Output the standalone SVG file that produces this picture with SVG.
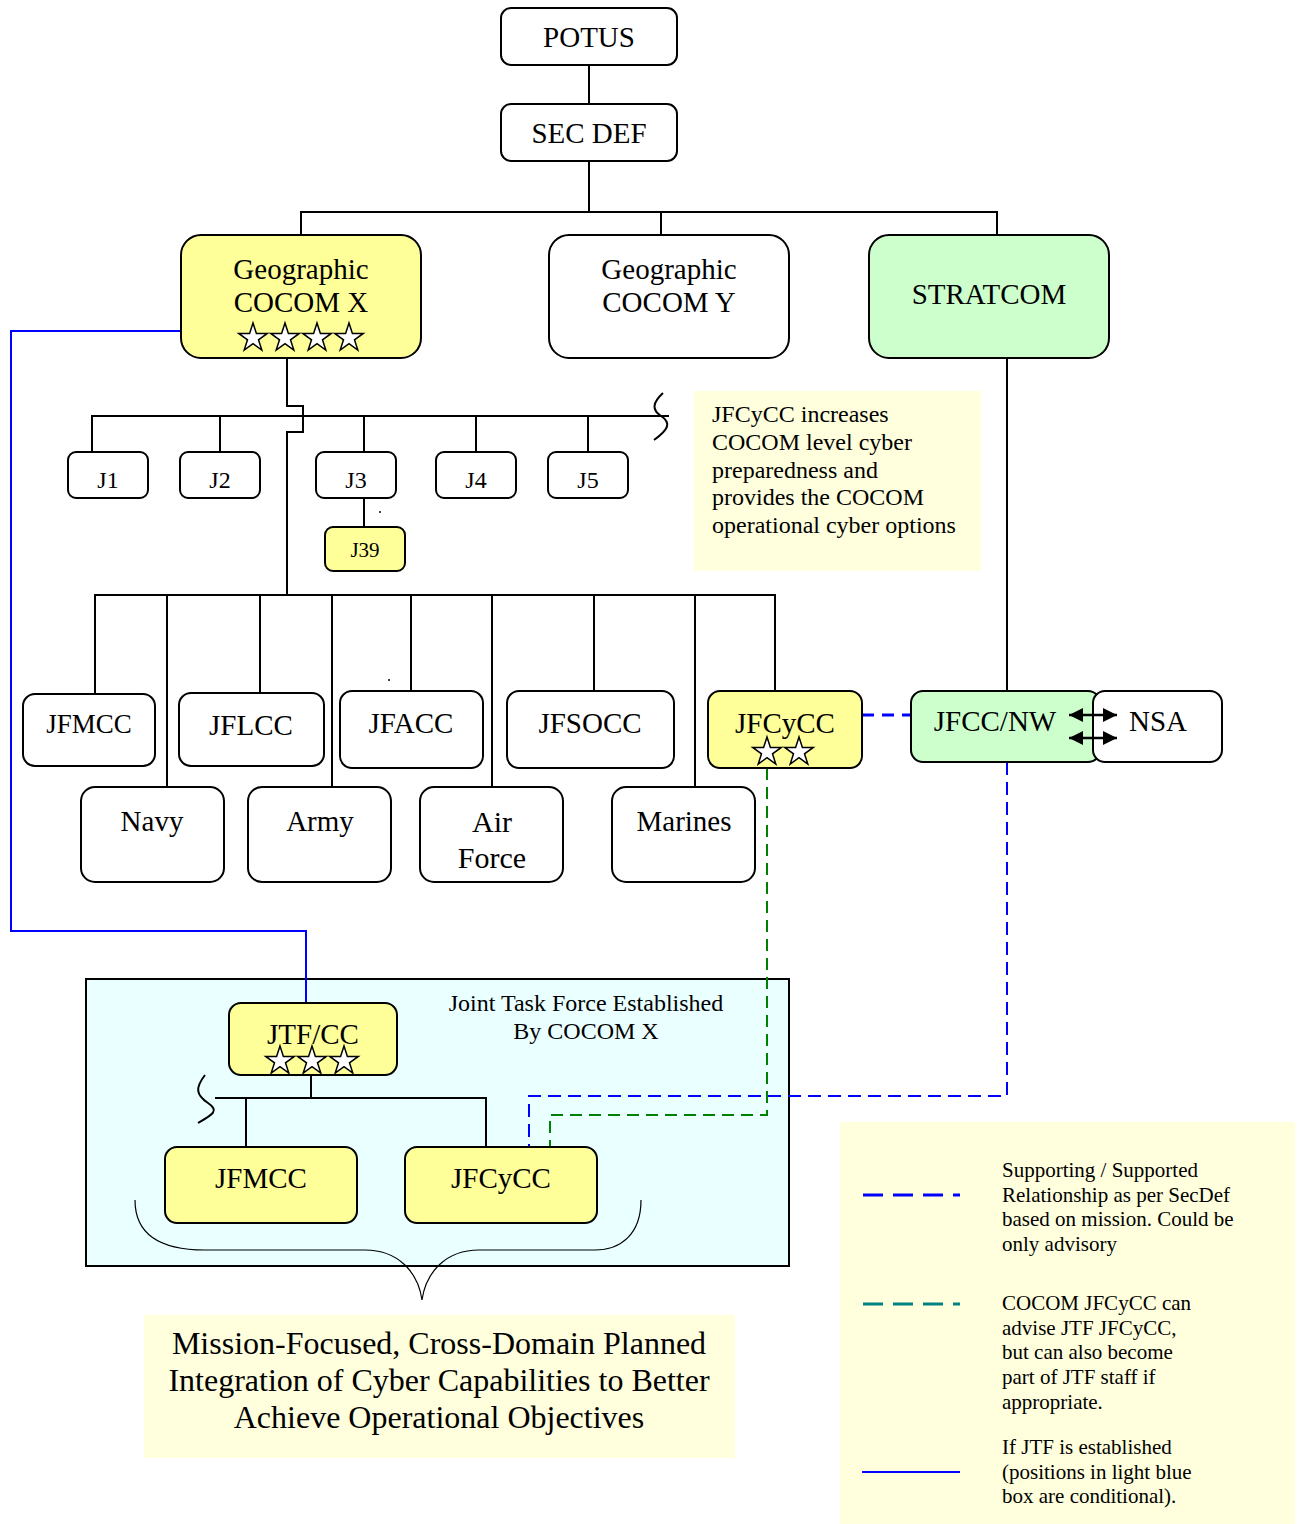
<svg xmlns="http://www.w3.org/2000/svg" width="1301" height="1524" viewBox="0 0 1301 1524">
<style>
text{font-family:"Liberation Serif","Times New Roman",serif;fill:#000}
.n{stroke:#000;stroke-width:2}
.w{fill:#fff}
.y{fill:#ffff99}
.g{fill:#ccffcc}
.c{text-anchor:middle}
.t29{font-size:29px}
.t24{font-size:24px}
.t21{font-size:21px}
.ln{fill:none;stroke:#000;stroke-width:2}
.thin{fill:none;stroke:#000;stroke-width:1.2}
.bl{fill:none;stroke:#0000ff;stroke-width:2}
.bd{fill:none;stroke:#0000ff;stroke-width:2;stroke-dasharray:13 7}
.gd{fill:none;stroke:#008000;stroke-width:2;stroke-dasharray:12 7}
.star{fill:#fff;stroke:#000;stroke-width:1.5}
</style>
<defs>
<path id="star" class="star" d="M0,-15 L3.4,-4.6 L14.3,-4.6 L5.5,1.8 L8.8,12.1 L0,5.7 L-8.8,12.1 L-5.5,1.8 L-14.3,-4.6 L-3.4,-4.6 Z"/>
<marker id="ah" viewBox="0 0 14 14" refX="14" refY="7" markerWidth="14" markerHeight="14" markerUnits="userSpaceOnUse" orient="auto-start-reverse">
<path d="M0,0 L14,7 L0,14 Z" fill="#000"/>
</marker>
</defs>

<!-- background panels -->
<g id="note">
<rect x="694" y="391" width="287" height="180" fill="#ffffdd"/>
<text class="t24" x="712" y="422">JFCyCC increases</text>
<text class="t24" x="712" y="450">COCOM level cyber</text>
<text class="t24" x="712" y="478">preparedness and</text>
<text class="t24" x="712" y="505">provides the COCOM</text>
<text class="t24" x="712" y="533">operational cyber options</text>
</g>
<g id="jtf-box">
<rect x="86" y="979" width="703" height="287" fill="#eaffff" stroke="#000" stroke-width="2"/>
<text class="t24 c" x="586" y="1011">Joint Task Force Established</text>
<text class="t24 c" x="586" y="1039">By COCOM X</text>
</g>
<g id="legend">
<rect x="840" y="1122" width="455" height="402" fill="#ffffdd"/>
<line x1="863" y1="1195" x2="960" y2="1195" stroke="#0000ff" stroke-width="3" stroke-dasharray="20 10"/>
<line x1="863" y1="1304" x2="960" y2="1304" stroke="#008080" stroke-width="3" stroke-dasharray="20 10"/>
<line x1="862" y1="1472" x2="960" y2="1472" stroke="#0000ff" stroke-width="2"/>
<text class="t21" x="1002" y="1177">Supporting / Supported</text>
<text class="t21" x="1002" y="1202">Relationship as per SecDef</text>
<text class="t21" x="1002" y="1226">based on mission. Could be</text>
<text class="t21" x="1002" y="1251">only advisory</text>
<text class="t21" x="1002" y="1310">COCOM JFCyCC can</text>
<text class="t21" x="1002" y="1335">advise JTF JFCyCC,</text>
<text class="t21" x="1002" y="1359">but can also become</text>
<text class="t21" x="1002" y="1384">part of JTF staff if</text>
<text class="t21" x="1002" y="1409">appropriate.</text>
<text class="t21" x="1002" y="1454">If JTF is established</text>
<text class="t21" x="1002" y="1479">(positions in light blue</text>
<text class="t21" x="1002" y="1503">box are conditional).</text>
</g>
<g id="mission">
<rect x="144" y="1315" width="591" height="143" fill="#ffffdd"/>
<text class="c" style="font-size:32px" x="439" y="1354">Mission-Focused, Cross-Domain Planned</text>
<text class="c" style="font-size:32px" x="439" y="1391">Integration of Cyber Capabilities to Better</text>
<text class="c" style="font-size:32px" x="439" y="1428">Achieve Operational Objectives</text>
</g>

<!-- connectors -->
<g id="connectors">
<path class="ln" d="M589,65 V104 M589,161 V212 M301,235 V212 H997 V235 M661,212 V235"/>
<path class="ln" d="M287,358 V406 H303 V432 H287 V595"/>
<path class="ln" d="M92,452 V416 H669 M220,416 V452 M364,416 V452 M476,416 V452 M588,416 V452"/>
<path class="ln" d="M663,393 C652,403 652,410 661,416 C672,423 668,430 654,440"/>
<path class="ln" d="M364,498 V527"/>
<path class="ln" d="M95,694 V595 H775 V691 M167,595 V787 M260,595 V693 M332,595 V787 M411,595 V691 M492,595 V787 M594,595 V691 M695,595 V787"/>
<path class="ln" d="M1007,358 V691"/>
<path class="bl" d="M181,331 H11 V931 H306 V1003"/>
<line x1="862" y1="715" x2="911" y2="715" stroke="#0000ff" stroke-width="3" stroke-dasharray="12 8"/>
<path class="bd" d="M1007,762 V1096 H529 V1147"/>
<path class="gd" d="M767,768 V1115 H550 V1147"/>
<path class="ln" d="M311,1075 V1098 M215,1098 H486 V1147 M246,1098 V1147"/>
<path class="ln" d="M205,1075 C195,1088 196,1095 208,1103 C220,1111 212,1115 198,1123"/>
<path class="thin" d="M135,1200 C135,1235 160,1250 205,1250 L365,1250 C398,1250 418,1272 422,1300 C426,1272 446,1250 479,1250 L595,1250 C620,1250 641,1235 641,1200"/>
<circle cx="380" cy="512" r="1" fill="#000"/>
<circle cx="389" cy="680" r="1" fill="#000"/>
</g>

<!-- nodes -->
<g id="potus"><rect class="n w" x="501" y="8" width="176" height="57" rx="10"/><text class="t29 c" x="589" y="47">POTUS</text></g>
<g id="secdef"><rect class="n w" x="501" y="104" width="176" height="57" rx="10"/><text class="t29 c" x="589" y="143">SEC DEF</text></g>
<g id="cocom-x"><rect class="n y" x="181" y="235" width="240" height="123" rx="20"/><text class="t29 c" x="301" y="279">Geographic</text><text class="t29 c" x="301" y="312">COCOM X</text>
<use href="#star" x="253" y="338"/><use href="#star" x="285" y="338"/><use href="#star" x="317" y="338"/><use href="#star" x="349" y="338"/></g>
<g id="cocom-y"><rect class="n w" x="549" y="235" width="240" height="123" rx="20"/><text class="t29 c" x="669" y="279">Geographic</text><text class="t29 c" x="669" y="312">COCOM Y</text></g>
<g id="stratcom"><rect class="n g" x="869" y="235" width="240" height="123" rx="20"/><text class="t29 c" x="989" y="304">STRATCOM</text></g>

<g id="j1"><rect class="n w" x="68" y="452" width="80" height="46" rx="8"/><text class="t24 c" x="108" y="488">J1</text></g>
<g id="j2"><rect class="n w" x="180" y="452" width="80" height="46" rx="8"/><text class="t24 c" x="220" y="488">J2</text></g>
<g id="j3"><rect class="n w" x="316" y="452" width="80" height="46" rx="8"/><text class="t24 c" x="356" y="488">J3</text></g>
<g id="j4"><rect class="n w" x="436" y="452" width="80" height="46" rx="8"/><text class="t24 c" x="476" y="488">J4</text></g>
<g id="j5"><rect class="n w" x="548" y="452" width="80" height="46" rx="8"/><text class="t24 c" x="588" y="488">J5</text></g>
<g id="j39"><rect class="n y" x="325" y="527" width="80" height="44" rx="8"/><text class="c" style="font-size:21px" x="365" y="557">J39</text></g>

<g id="jfmcc"><rect class="n w" x="23" y="694" width="132" height="72" rx="12"/><text class="c" style="font-size:27px" x="89" y="733">JFMCC</text></g>
<g id="jflcc"><rect class="n w" x="179" y="693" width="145" height="73" rx="12"/><text class="t29 c" x="251" y="735">JFLCC</text></g>
<g id="jfacc"><rect class="n w" x="340" y="691" width="143" height="77" rx="12"/><text class="t29 c" x="411" y="733">JFACC</text></g>
<g id="jfsocc"><rect class="n w" x="507" y="691" width="167" height="77" rx="12"/><text class="t29 c" x="590" y="733">JFSOCC</text></g>
<g id="jfcycc"><rect class="n y" x="708" y="691" width="154" height="77" rx="12"/><text class="t29 c" x="785" y="733">JFCyCC</text>
<use href="#star" x="767" y="752"/><use href="#star" x="799" y="752"/></g>
<g id="jfcc-nw"><rect class="n g" x="911" y="691" width="189" height="71" rx="12"/><text class="t29 c" x="995" y="731">JFCC/NW</text></g>
<g id="nsa"><rect class="n w" x="1093" y="691" width="129" height="71" rx="12"/><text class="t29 c" x="1158" y="731">NSA</text></g>
<g id="nsa-arrows">
<line x1="1069" y1="715" x2="1117" y2="715" stroke="#000" stroke-width="2.5" marker-start="url(#ah)" marker-end="url(#ah)"/>
<line x1="1069" y1="738" x2="1117" y2="738" stroke="#000" stroke-width="2.5" marker-start="url(#ah)" marker-end="url(#ah)"/>
</g>

<g id="navy"><rect class="n w" x="81" y="787" width="143" height="95" rx="14"/><text class="t29 c" x="152" y="831">Navy</text></g>
<g id="army"><rect class="n w" x="248" y="787" width="143" height="95" rx="14"/><text class="t29 c" x="320" y="831">Army</text></g>
<g id="airforce"><rect class="n w" x="420" y="787" width="143" height="95" rx="14"/><text class="c" style="font-size:30px" x="492" y="832">Air</text><text class="c" style="font-size:30px" x="492" y="868">Force</text></g>
<g id="marines"><rect class="n w" x="612" y="787" width="143" height="95" rx="14"/><text class="t29 c" x="684" y="831">Marines</text></g>

<g id="jtf-cc"><rect class="n y" x="229" y="1003" width="168" height="72" rx="12"/><text class="t29 c" x="313" y="1044">JTF/CC</text>
<use href="#star" x="280" y="1061"/><use href="#star" x="312" y="1061"/><use href="#star" x="344" y="1061"/></g>
<g id="jtf-jfmcc"><rect class="n y" x="165" y="1147" width="192" height="76" rx="12"/><text class="t29 c" x="261" y="1188">JFMCC</text></g>
<g id="jtf-jfcycc"><rect class="n y" x="405" y="1147" width="192" height="76" rx="12"/><text class="t29 c" x="501" y="1188">JFCyCC</text></g>
</svg>
